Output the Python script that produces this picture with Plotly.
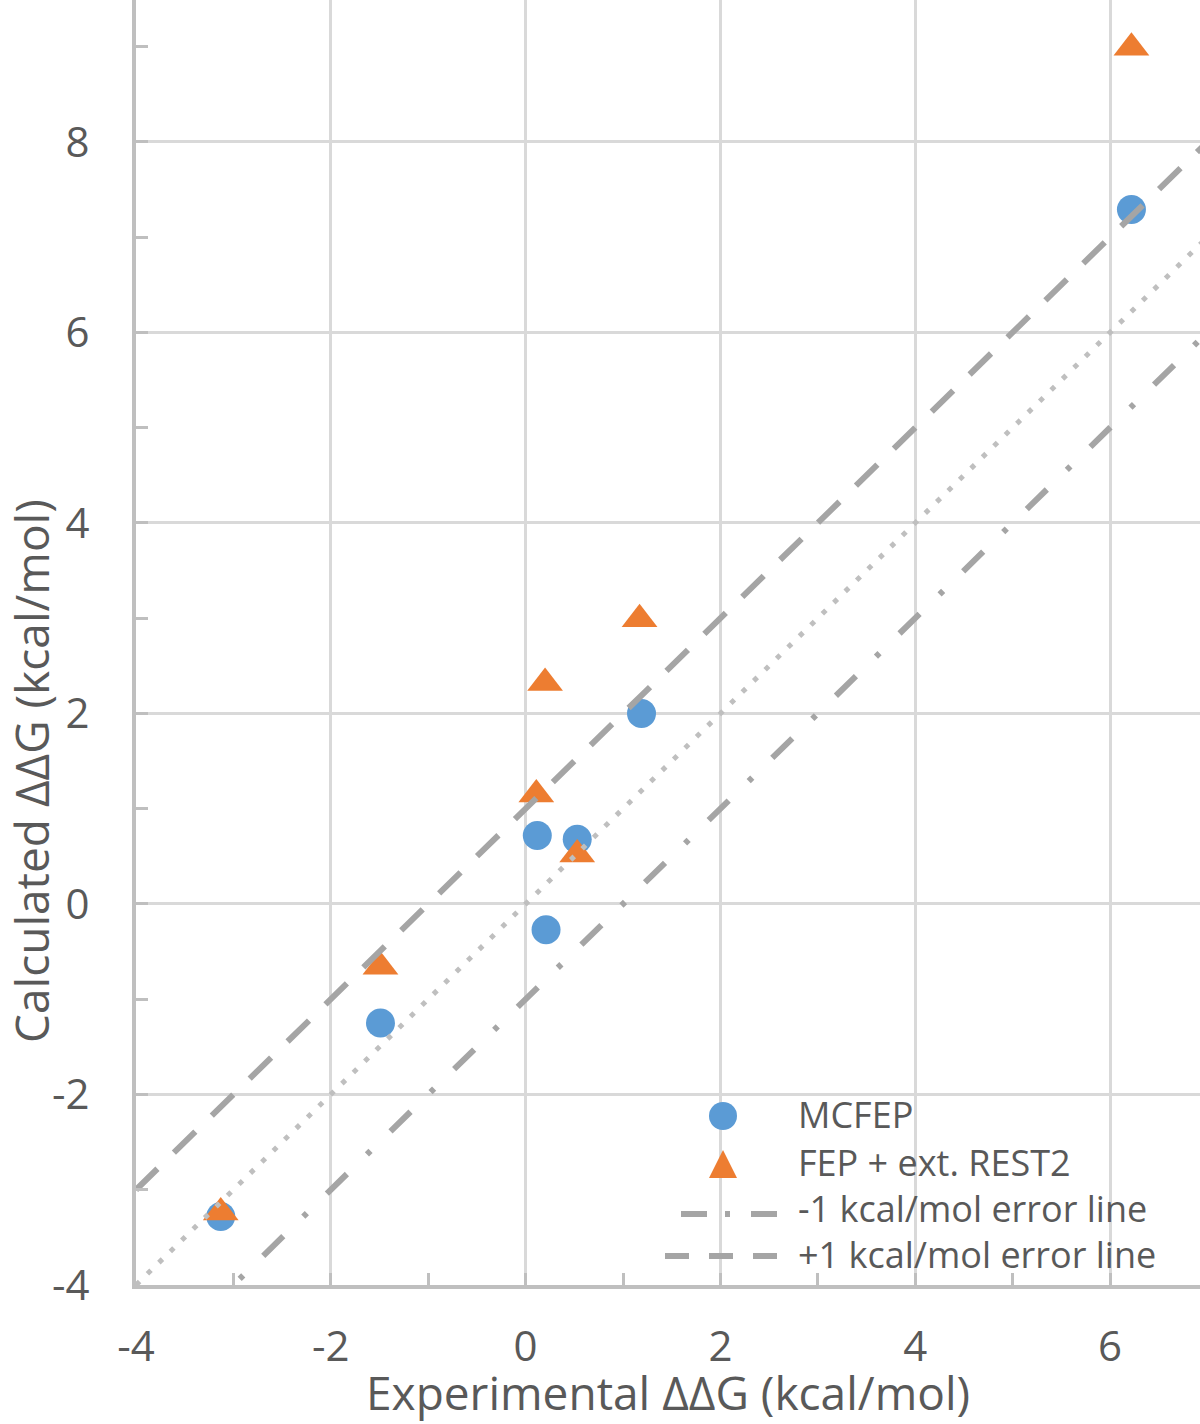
import plotly.graph_objects as go

# MCFEP (blue circles)
mcfep_exp = [-3.13, -1.49, 0.12, 0.21, 0.53, 1.19, 6.22]
mcfep_calc = [-3.28, -1.25, 0.72, -0.27, 0.68, 2.00, 7.29]

# FEP + ext. REST2 (orange triangles)
rest2_exp = [-3.13, -1.49, 0.11, 0.20, 0.53, 1.17, 6.22]
rest2_calc = [-3.24, -0.66, 1.15, 2.32, 0.52, 2.99, 8.99]

# Reference lines (x endpoints, offsets)
line_x = [-4, 7]
ideal_offset = 0
minus_offset = -1
plus_offset = 1

x_ticks = [-4, -2, 0, 2, 4, 6]
y_ticks = [-4, -2, 0, 2, 4, 6, 8]

legend_labels = ["MCFEP", "FEP + ext. REST2", "-1 kcal/mol error line", "+1 kcal/mol error line"]

BLUE = "#5B9BD5"
ORANGE = "#ED7D31"
TXT = "#595959"
LGRAY = "#A5A5A5"
FONT = "Open Sans"

W, H = 1200, 1424
L, R, T, B = 136, 0, 0, 139
PW, PH = W - L - R, H - T - B


def px(xp):
    return (xp - L) / PW


def py(yp):
    return (H - B - yp) / PH


fig = go.Figure()

fig.add_trace(go.Scatter(
    x=mcfep_exp, y=mcfep_calc, mode="markers", name=legend_labels[0],
    marker=dict(symbol="circle", size=29, color=BLUE, line=dict(width=0)),
))
fig.add_trace(go.Scatter(
    x=rest2_exp, y=rest2_calc, mode="markers", name=legend_labels[1],
    marker=dict(symbol="triangle-up", size=31, color=ORANGE, line=dict(width=0)),
))
fig.add_trace(go.Scatter(
    x=line_x, y=[v + ideal_offset for v in line_x], mode="lines",
    hoverinfo="skip",
    line=dict(color="#BFBFBF", width=5, dash="5px,11px"),
))
fig.add_trace(go.Scatter(
    x=line_x, y=[v + minus_offset for v in line_x], mode="lines",
    name=legend_labels[2],
    line=dict(color=LGRAY, width=6, dash="28px,28px,5px,28px"),
))
fig.add_trace(go.Scatter(
    x=line_x, y=[v + plus_offset for v in line_x], mode="lines",
    name=legend_labels[3],
    line=dict(color=LGRAY, width=6, dash="30px,23px"),
))

axis_common = dict(
    showgrid=True, gridcolor="#D9D9D9", gridwidth=3,
    showline=True, linecolor="#BFBFBF", linewidth=4,
    zeroline=False, automargin=False,
    ticks="inside", ticklen=12, tickwidth=3, tickcolor="#BFBFBF",
    minor=dict(ticks="inside", ticklen=12, tickwidth=3, tickcolor="#BFBFBF",
               dtick=1, showgrid=False),
    tickfont=dict(family=FONT, size=42, color=TXT),
)

fig.update_xaxes(
    range=[-4, 6.924], tickvals=x_ticks, ticktext=[str(v) for v in x_ticks],
    ticklabelstandoff=22,
    **axis_common,
)
fig.update_yaxes(
    range=[-4, 9.49], tickvals=y_ticks, ticktext=[str(v) for v in y_ticks],
    ticklabelstandoff=34,
    **axis_common,
)

annotations = [
    dict(text="Experimental ΔΔG (kcal/mol)", xref="paper", yref="paper",
         x=0.5, y=py(1392), xanchor="center", yanchor="middle", showarrow=False,
         font=dict(family=FONT, size=46, color=TXT)),
    dict(text="Calculated ΔΔG (kcal/mol)", xref="paper", yref="paper",
         x=px(31), y=py(771), xanchor="center", yanchor="middle", showarrow=False,
         textangle=-90, font=dict(family=FONT, size=46, color=TXT)),
]

# Legend (drawn manually to match the reference's large symbols)
row_y = [1114, 1162, 1208, 1254]
for lbl, yy in zip(legend_labels, row_y):
    annotations.append(dict(
        text=lbl, xref="paper", yref="paper", x=px(796), y=py(yy),
        xanchor="left", yanchor="middle", showarrow=False,
        font=dict(family=FONT, size=36, color=TXT)))

shapes = [
    dict(type="circle", xref="paper", yref="paper",
         x0=px(709), x1=px(737), y0=py(1102), y1=py(1130),
         fillcolor=BLUE, line=dict(width=0), layer="above"),
    dict(type="path", xref="paper", yref="paper",
         path=f"M{px(709)},{py(1178)} L{px(737)},{py(1178)} L{px(723)},{py(1150)} Z",
         fillcolor=ORANGE, line=dict(width=0), layer="above"),
    dict(type="line", xref="paper", yref="paper",
         x0=px(681), x1=px(777), y0=py(1214), y1=py(1214),
         line=dict(color=LGRAY, width=6, dash="26px,18px,5px,21px"), layer="above"),
    dict(type="line", xref="paper", yref="paper",
         x0=px(665), x1=px(778), y0=py(1256), y1=py(1256),
         line=dict(color=LGRAY, width=6, dash="24px,20px"), layer="above"),
]

fig.update_layout(
    width=W, height=H,
    margin=dict(l=L, r=R, t=T, b=B, pad=0),
    plot_bgcolor="white", paper_bgcolor="white",
    showlegend=False,
    annotations=annotations,
    shapes=shapes,
)

fig.write_html("out.html", config={"displayModeBar": False},
               post_script="document.body.style.margin='0px';")
